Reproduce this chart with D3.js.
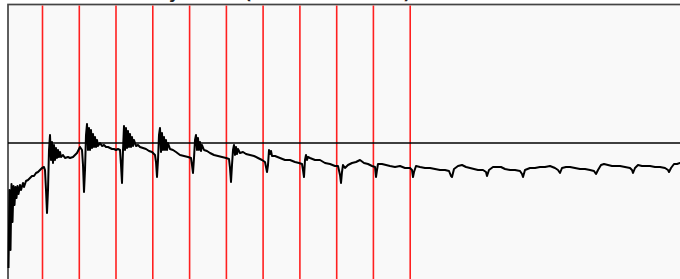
<!DOCTYPE html>
<html>
<head>
<meta charset="utf-8">
<script src="https://cdn.jsdelivr.net/npm/d3@7"></script>
<style>
  body { margin: 0; background: #fff; }
  svg { display: block; }
</style>
</head>
<body>
<script>
// time of each kick (ms)
var kickTimes = [34.5, 71.3, 108, 144.8, 181.6, 218.4, 255.1, 291.9, 328.7, 365.4, 402.2];
var setpoint = 1000; // mV

// measured response [time ms, mV]
var response = [
  [0.5,375],[1.5,765],[2.5,465],[3.5,795],[4.5,605],[5.5,785],[6.5,690],[7.5,780],[8.5,725],[9.5,785],
  [10.5,745],[12,790],[13,765],[15,800],[16,780],[18,810],[20,815],[22,825],[24,835],[26,835],
  [28,850],[30,855],[32,865],[34,875],[36,880],[37,865],[38,765],[39,650],[40,765],[41,965],
  [42,1040],[43,915],[44,1005],[45,900],[46,990],[47,915],[48,975],[49,925],[50,965],[51,930],
  [52,955],[53,930],[55,940],[57,925],[60,930],[62,925],[65,930],[67,940],[69,950],[71,970],
  [72,980],[74,965],[75,890],[76,755],[77,865],[78,1040],[79,1095],[80,965],[81,1075],[82,965],
  [83,1065],[84,975],[85,1045],[86,980],[87,1030],[88,980],[89,1015],[90,985],[92,1000],[94,985],
  [96,990],[98,980],[100,980],[102,975],[104,970],[106,970],[108,965],[110,970],[112,965],[113,890],
  [114,800],[115,965],[116,1085],[117,965],[118,1075],[119,975],[120,1060],[121,980],[122,1045],[123,980],
  [124,1030],[125,985],[126,1015],[128,985],[130,990],[132,980],[135,975],[138,970],[141,960],[144,955],
  [147,940],[148,905],[149,830],[150,915],[151,1040],[152,1075],[153,955],[154,1050],[155,965],[156,1030],
  [157,965],[158,1015],[159,965],[160,1000],[162,970],[165,965],[168,955],[172,940],[176,935],[180,930],
  [183,925],[184,890],[185,850],[186,925],[187,1015],[188,1040],[189,965],[190,1025],[191,965],[192,1005],
  [193,960],[194,990],[196,965],[199,960],[202,950],[206,940],[210,935],[214,930],[218,925],[221,920],
  [222,875],[223,805],[224,890],[225,965],[226,990],[227,940],[228,980],[229,945],[230,970],[232,950],
  [235,955],[238,945],[242,940],[246,935],[250,925],[254,915],[257,905],[259,855],[260,890],[261,965],
  [262,945],[263,960],[264,935],[267,935],[272,925],[277,915],[282,915],[287,905],[291,900],[294,895],
  [295,865],[296,830],[297,915],[298,940],[299,915],[300,930],[302,925],[307,915],[312,915],[317,900],
  [322,895],[327,885],[330,885],[332,840],[333,800],[334,855],[335,890],[337,875],[340,890],[344,900],
  [348,905],[352,915],[356,900],[360,895],[364,885],[367,880],[368,830],[369,865],[370,895],[374,895],
  [378,890],[382,885],[387,880],[392,885],[397,875],[402,875],[404,865],[405,830],[406,855],[408,885],
  [412,880],[417,875],[422,875],[427,870],[432,865],[437,865],[441,860],[443,835],[444,830],[446,870],
  [450,885],[454,890],[458,880],[462,875],[466,870],[470,865],[475,865],[478,855],[479,835],[481,865],
  [485,880],[489,880],[493,880],[497,870],[502,865],[507,865],[512,860],[514,845],[515,830],[517,865],
  [522,875],[527,875],[532,880],[537,880],[542,885],[547,875],[550,865],[552,850],[554,875],[558,880],
  [562,880],[567,875],[572,870],[577,870],[582,865],[586,860],[588,845],[590,865],[593,890],[596,895],
  [600,890],[604,885],[608,885],[612,885],[617,880],[622,875],[624,865],[625,850],[627,875],[630,890],
  [634,885],[638,885],[642,885],[647,880],[652,880],[657,875],[660,865],[661,855],[663,875],[666,895],
  [669,895],[672,900],[676,900]
];

var width = 680, height = 279;
var plotLeft = 8, plotTop = 4.5;

var svg = d3.select("body").append("svg").attr("width",width).attr("height",height);

var x = d3.scaleLinear().domain([0,680]).range([plotLeft, plotLeft+680]);
var y = d3.scaleLinear().domain([0,setpoint]).range([343,143]);

// plot frame
svg.append("rect")
    .attr("x",plotLeft)
    .attr("y",plotTop)
    .attr("width",720)
    .attr("height",320)
    .attr("fill","#f9f9f9")
    .attr("stroke","#444")
    .attr("stroke-width","1.7");

// title, mostly above the window (only descenders show)
svg.append("text")
    .attr("x",107)
    .attr("y",-1)
    .attr("font-family","DejaVu Sans")
    .attr("font-weight","bold")
    .attr("font-size","16")
    .attr("fill","#222")
    .text("Velocity Offset (normalized units)");

// kick markers
svg.selectAll("line.kick")
    .data(kickTimes)
    .enter().append("line")
      .attr("class","kick")
      .attr("x1",function(d){ return x(d); })
      .attr("x2",function(d){ return x(d); })
      .attr("y1",plotTop+1)
      .attr("y2",height)
      .attr("stroke","#ff2020")
      .attr("stroke-width","1.6");

// setpoint line
svg.append("line")
    .attr("x1",plotLeft)
    .attr("x2",width)
    .attr("y1",y(setpoint))
    .attr("y2",y(setpoint))
    .attr("stroke","#000")
    .attr("stroke-width","1.6");

var line = d3.line()
    .x(function(d){ return x(d[0]); })
    .y(function(d){ return y(d[1]); });

svg.append("path")
    .datum(response)
    .attr("d",line)
    .attr("fill","none")
    .attr("stroke","#000")
    .attr("stroke-width","2")
    .attr("stroke-linejoin","round");
</script>
</body>
</html>
